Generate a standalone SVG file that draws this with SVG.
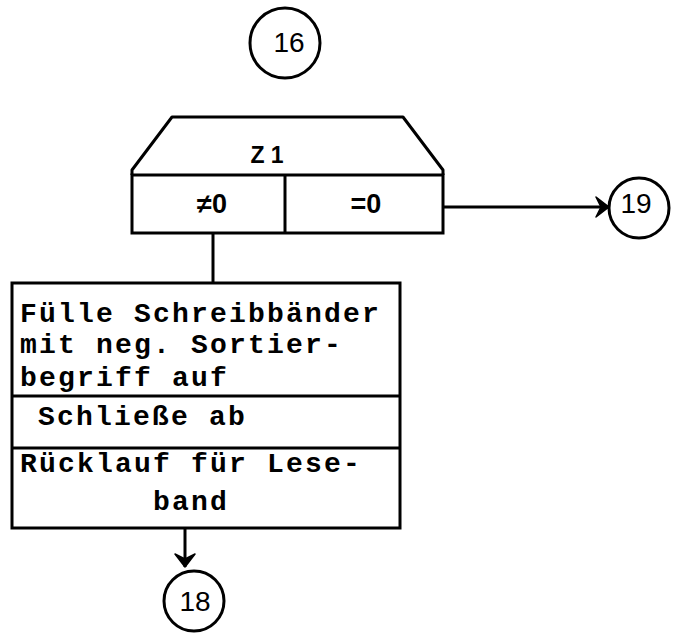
<svg xmlns="http://www.w3.org/2000/svg" width="675" height="634" viewBox="0 0 675 634">
<style>
.ln{fill:none;stroke:#000;stroke-width:3;stroke-linejoin:round}
.bx{fill:#fff;stroke:#000;stroke-width:3}
.num{font-family:"Liberation Sans",Arial,sans-serif;font-size:28px;fill:#000;text-anchor:middle}
.lbl{font-family:"Liberation Sans",Arial,sans-serif;font-size:23px;font-weight:bold;fill:#000;text-anchor:middle}
.lb2{font-family:"Liberation Sans",Arial,sans-serif;font-size:27px;font-weight:bold;fill:#000;text-anchor:middle}
.tt{font-family:"Liberation Mono","Courier New",monospace;font-size:28px;font-weight:bold;fill:#000;letter-spacing:2.2px}
</style>
<defs>
<marker id="ah" markerWidth="16" markerHeight="24" refX="14" refY="11" orient="auto" markerUnits="userSpaceOnUse">
<path d="M14,11 L1,1 L6,11 L1,21 Z" fill="#000" stroke="#000" stroke-width="1.5" stroke-linejoin="round"/>
</marker>
</defs>
<g id="connectors">
<line class="ln" x1="213" y1="233" x2="213" y2="283"/>
<line class="ln" x1="443" y1="207" x2="609" y2="207" marker-end="url(#ah)"/>
<line class="ln" x1="185" y1="528" x2="185" y2="567" marker-end="url(#ah)"/>
</g>
<g id="c16">
<circle class="ln" cx="285" cy="43" r="35"/>
<text class="num" x="289" y="52">16</text>
</g>
<g id="z1">
<path class="ln" d="M132,175 L132,170 L172,117 L403,117 L443,170 L443,175"/>
<rect class="bx" x="132" y="175" width="311" height="58"/>
<line class="ln" x1="285" y1="175" x2="285" y2="233"/>
<text class="lbl" x="267" y="163">Z 1</text>
<text class="lb2" x="212" y="213">≠0</text>
<text class="lb2" x="366" y="213">=0</text>
</g>
<g id="c19">
<circle class="ln" cx="639" cy="208" r="30"/>
<text class="num" x="636" y="213">19</text>
</g>
<g id="proc">
<rect class="bx" x="12" y="283" width="388" height="245"/>
<line class="ln" x1="12" y1="396" x2="400" y2="396"/>
<line class="ln" x1="12" y1="448" x2="400" y2="448"/>
<text class="tt" x="20" y="322">Fülle Schreibbänder</text>
<text class="tt" x="20" y="353">mit neg. Sortier-</text>
<text class="tt" x="20" y="386">begriff auf</text>
<text class="tt" x="38" y="425">Schließe ab</text>
<text class="tt" x="20" y="472">Rücklauf für Lese-</text>
<text class="tt" x="153" y="510">band</text>
</g>
<g id="c18">
<circle class="ln" cx="194" cy="601" r="30"/>
<text class="num" x="195" y="611">18</text>
</g>
</svg>
